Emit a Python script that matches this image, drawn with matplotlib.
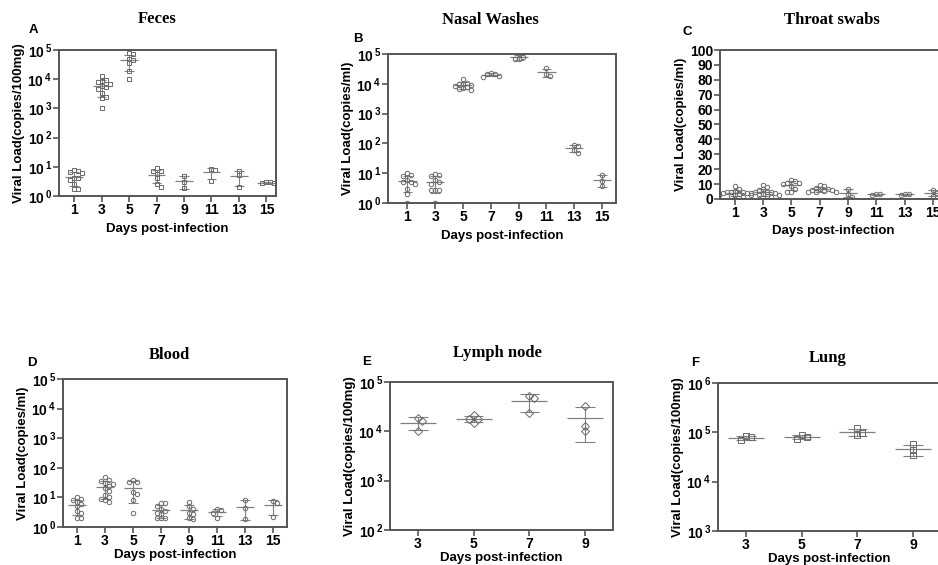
import numpy as np
import matplotlib
matplotlib.use('Agg')
import matplotlib.pyplot as plt
from matplotlib.ticker import NullLocator

plt.rcParams['font.family'] = ['Liberation Sans', 'DejaVu Sans']
plt.rcParams['font.weight'] = 'bold'
plt.rcParams['mathtext.fontset'] = 'custom'
plt.rcParams['mathtext.rm'] = 'Liberation Sans:bold'
plt.rcParams['mathtext.bf'] = 'Liberation Sans:bold'

# ---- data ----
days8 = [1, 3, 5, 7, 9, 11, 13, 15]
days4 = [3, 5, 7, 9]

feces = [
    [8, 7, 6.5, 6, 4, 4, 3.5, 2.5, 1.8, 1.8],
    [13000, 9500, 9000, 8000, 7000, 6000, 5500, 4500, 3300, 2500, 2300, 1000],
    [78000, 72000, 50000, 45000, 35000, 19000, 10000],
    [9, 7, 7, 5.5, 4, 2.6, 2.1],
    [5, 3, 1.9],
    [8.2, 7.8, 3.3],
    [7.2, 5.2, 2.1],
    [3.0, 2.9, 2.8, 2.7],
]
nasal = [
    [10, 9, 8, 6, 5, 5, 4.5, 3, 2, 1],
    [9.5, 9, 8, 6, 5, 4.5, 2.7, 2.7, 2.7, 1],
    [14000, 11000, 10000, 9500, 9000, 8500, 8000, 7000, 6500, 6000],
    [23000, 22000, 21000, 18000, 17500],
    [98000, 80000, 68000, 66000],
    [33000, 22000, 18000],
    [90, 85, 60, 48],
    [8.7, 5.5, 3.8],
]
throat = [
    [8.5, 6.5, 5.5, 5, 4.5, 4.5, 4, 4, 3.5, 3, 3, 2.5, 2, 1.5],
    [9.5, 8, 6.5, 6, 5, 4.5, 4.5, 4, 4, 3.5, 3, 2.5, 2, 1.5],
    [12.5, 12, 11, 11, 10, 9, 7, 5, 5],
    [9.5, 8.5, 7.5, 7, 6.5, 6, 6, 5.5, 5, 5, 4.5],
    [6.5, 3.5, 1.2],
    [3.5, 3.2, 3.0],
    [3.6, 3.3, 3.0],
    [6, 3.8, 2],
]
blood = [
    [10, 9, 8, 7, 6, 5, 3.5, 3, 2, 2],
    [48, 38, 36, 30, 28, 24, 20, 16, 12, 10, 9, 8, 7],
    [40, 34, 32, 15, 13, 8, 3],
    [6.5, 6.5, 5, 4, 3.5, 3, 2.8, 2, 2, 2],
    [7, 5, 4, 3, 2.8, 2, 1.8],
    [4, 3.8, 3, 2],
    [8, 4.5, 1.9],
    [7.5, 6.5, 2.2],
]
lymph = [
    [18500, 16500, 10000],
    [21000, 18000, 18000, 14500],
    [52000, 47000, 23000],
    [33000, 13000, 10000],
]
lung = [
    [85000, 80000, 70000],
    [90000, 80000, 72000],
    [120000, 97000, 88000],
    [57000, 44000, 34000],
]

GREY = '#808080'
SPINE = '#555555'
W, H = 938, 565


def box(l, r, t, b):
    return [l / W, 1 - b / H, (r - l) / W, (b - t) / H]


def swarm(ax, x, vals, d):
    # spread overlapping points sideways (pixel space)
    pts = ax.transData.transform(np.column_stack([np.full(len(vals), x), vals]))
    placed = []
    for px, py in pts:
        k = 0
        while True:
            off = ((k + 1) // 2) * d * (1 if k % 2 else -1)
            if all(np.hypot(px + off - qx, py - qy) >= d for qx, qy in placed):
                break
            k += 1
        placed.append((px + off, py))
    return ax.transData.inverted().transform(np.array(placed))


def panel(rect, days, groups, xlim, ylim, log, marker, ms, ylabel, xpad=4):
    ax = fig.add_axes(box(*rect))
    ax.set_xlim(*xlim)
    if log:
        ax.set_yscale('log')
    ax.set_ylim(*ylim)
    for x, vals in zip(days, groups):
        vals = np.array(vals, dtype=float)
        m, sd = vals.mean(), vals.std(ddof=1)
        lo = m - sd if m - sd > 0 else ylim[0] * 0.1
        ax.vlines(x, lo, m + sd, color=GREY, lw=0.8)
        ax.hlines([m - sd, m + sd], x - 0.35, x + 0.35, color=GREY, lw=0.8)
        ax.hlines(m, x - 0.65, x + 0.65, color=GREY, lw=0.9)
        xy = swarm(ax, x, sorted(vals, reverse=True), ms * 1.25)
        ax.plot(xy[:, 0], xy[:, 1], ls='none', marker=marker, ms=ms,
                mfc='none', mec='#6a6a6a', mew=0.7)
    ax.set_xticks(days)
    ax.set_xticklabels([str(d) for d in days])
    if log:
        lo, hi = int(np.log10(ylim[0])), int(np.log10(ylim[1]))
        ks = list(range(lo, hi + 1))
        ax.set_yticks([10.0 ** k for k in ks])
        ax.set_yticklabels([r'$10^{\,%d}$' % k for k in ks])
        ax.yaxis.set_minor_locator(NullLocator())
    else:
        ax.set_yticks(range(0, 101, 10))
    for s in ax.spines.values():
        s.set_color(SPINE)
        s.set_linewidth(1.4)
    ax.tick_params(direction='out', length=4, width=1.2, color=SPINE,
                   labelsize=10, pad=1)
    ax.set_ylabel(ylabel, fontsize=9.5, fontweight='bold', labelpad=2)
    ax.set_xlabel('Days post-infection', fontsize=9.5, fontweight='bold', labelpad=xpad)
    return ax


fig = plt.figure(figsize=(W / 100, H / 100), dpi=100)

panel((59, 276, 50, 196), days8, feces, (-0.1, 15.7), (1, 1e5), True, 's', 3.2,
      'Viral Load(copies/100mg)')
panel((388, 616, 54, 203), days8, nasal, (-0.4, 16), (1, 1e5), True, 'o', 3.2,
      'Viral Load(copies/ml)')
panel((720, 947, 50, 199), days8, throat, (-0.05, 16), (0, 100), False, 'o', 3.2,
      'Viral Load(copies/ml)')
panel((63, 287, 379, 527), days8, blood, (0, 16), (1, 1e5), True, 'o', 3.2,
      'Viral Load(copies/ml)', xpad=0.5)
panel((390, 613, 382, 530), days4, lymph, (2, 10), (1e2, 1e5), True, 'D', 3.6,
      'Viral Load(copies/100mg)', xpad=1)
panel((718, 941, 383, 531), days4, lung, (2, 10), (1e3, 1e6), True, 's', 4.0,
      'Viral Load(copies/100mg)', xpad=1)

titles = [('Feces', 157, 19), ('Nasal Washes', 490, 20), ('Throat swabs', 832, 20),
          ('Blood', 169, 355), ('Lymph node', 497, 353), ('Lung', 828, 358)]
for t, x, y in titles:
    fig.text(x / W, 1 - y / H, t, ha='center', va='center', fontsize=12,
             fontweight='bold', family=['Liberation Serif', 'DejaVu Serif'])

letters = [('A', 33, 30), ('B', 358, 39), ('C', 687, 32),
           ('D', 32, 363), ('E', 367, 362), ('F', 695, 363)]
for t, x, y in letters:
    fig.text(x / W, 1 - y / H, t, ha='center', va='center', fontsize=9.5,
             fontweight='bold')

fig.savefig('out.png', dpi=100)
